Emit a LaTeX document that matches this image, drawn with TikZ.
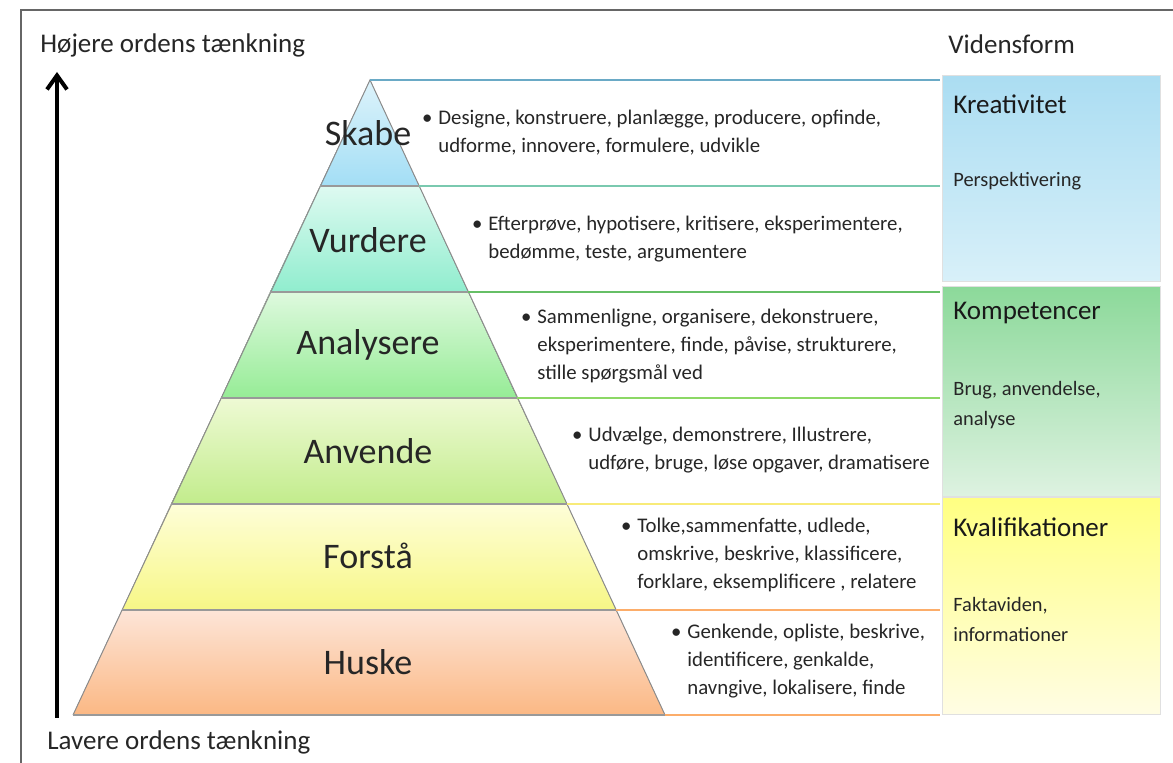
\documentclass[tikz,border=0pt]{standalone}
\usepackage{fontspec}
\setmainfont{Carlito}
\usetikzlibrary{arrows.meta}
\definecolor{skabeT}{HTML}{DDF3FB}
\definecolor{skabeB}{HTML}{A3DEF5}
\definecolor{vurdT}{HTML}{DEFAF1}
\definecolor{vurdB}{HTML}{90EDCE}
\definecolor{analT}{HTML}{DEF9DE}
\definecolor{analB}{HTML}{96EC96}
\definecolor{anvT}{HTML}{EEFAD4}
\definecolor{anvB}{HTML}{C2EC8C}
\definecolor{forT}{HTML}{FEFED8}
\definecolor{forB}{HTML}{F7F786}
\definecolor{husT}{HTML}{FDE5D8}
\definecolor{husB}{HTML}{FBB884}
\definecolor{kreaT}{HTML}{ABDDF2}
\definecolor{kreaB}{HTML}{D8F0F9}
\definecolor{kompT}{HTML}{8CD99A}
\definecolor{kompB}{HTML}{DEF2E1}
\definecolor{kvalT}{HTML}{FFFF82}
\definecolor{kvalB}{HTML}{FFFDE4}
\definecolor{topline}{HTML}{6AAAC6}

\begin{document}
\begin{tikzpicture}[x=0.5pt,y=-0.5pt,
	level/.style={font=\fontsize{18}{20}\selectfont,text=black!85},
	verbs/.style={anchor=west,align=left,inner sep=0pt,font=\fontsize{10.4}{14}\selectfont,text=black!85},
	head/.style={anchor=west,inner sep=0pt,font=\fontsize{13.5}{15}\selectfont,text=black!85},
	formbox/.style={draw=black!12,line width=0.5pt},
	formtitle/.style={anchor=west,inner sep=0pt,font=\fontsize{13.5}{16}\selectfont,text=black!90},
	formtext/.style={anchor=west,align=left,inner sep=0pt,font=\fontsize{10.2}{15}\selectfont,text=black!85},
	sep/.style={line width=0.8pt}]
	\useasboundingbox (0,0) rectangle (1173,763);
	\draw[black!60,line width=1pt] (21,763) -- (21,10) -- (1173,10);

	% pyramid
	\fill[top color=skabeT,bottom color=skabeB] (370,80) -- (419,186) -- (320,186) -- cycle;
	\fill[top color=vurdT,bottom color=vurdB] (320,186) -- (419,186) -- (468,292) -- (270,292) -- cycle;
	\fill[top color=analT,bottom color=analB] (270,292) -- (468,292) -- (517,398) -- (221,398) -- cycle;
	\fill[top color=anvT,bottom color=anvB] (221,398) -- (517,398) -- (567,504) -- (171,504) -- cycle;
	\fill[top color=forT,bottom color=forB] (171,504) -- (567,504) -- (616,610) -- (122,610) -- cycle;
	\fill[top color=husT,bottom color=husB] (122,610) -- (616,610) -- (665,715) -- (73,715) -- cycle;
	\draw[black!45,line width=0.5pt] (73,715) -- (370,80) -- (665,715);

	% band lines
	\draw[sep,topline] (370,80) -- (940,80);
	\draw[sep,vurdB!85!black] (419,186) -- (940,186);
	\draw[sep,analB!85!green!80!black] (468,292) -- (940,292);
	\draw[sep,anvB!80!green!90!black] (517,398) -- (940,398);
	\draw[sep,forB!90!orange] (567,504) -- (940,504);
	\draw[sep,husB!80!orange] (616,610) -- (940,610);
	\draw[sep,husB!80!orange] (665,715) -- (940,715);
	\draw[black!40,line width=0.6pt] (320,186) -- (419,186) (270,292) -- (468,292) (221,398) -- (517,398)
		(171,504) -- (567,504) (122,610) -- (616,610) (73,715) -- (665,715);

	\node[level] (skabe) at (368,133) {Skabe};
	\node[level] (vurdere) at (368,240) {Vurdere};
	\node[level] (analysere) at (368,345) {Analysere};
	\node[level] (anvende) at (368,451) {Anvende};
	\node[level] (forsta) at (368,556) {Forstå};
	\node[level] (huske) at (368,662) {Huske};

	\node[verbs] (tskabe) at (438,133) {\llap{\textbullet\hspace{3pt}}Designe, konstruere, planlægge, producere, opfinde,\\udforme, innovere, formulere, udvikle};
	\node[verbs] (tvurdere) at (488,239) {\llap{\textbullet\hspace{3pt}}Efterprøve, hypotisere, kritisere, eksperimentere,\\bedømme, teste, argumentere};
	\node[verbs] (tanalysere) at (537,346) {\llap{\textbullet\hspace{3pt}}Sammenligne, organisere, dekonstruere,\\eksperimentere, finde, påvise, strukturere,\\stille spørgsmål ved};
	\node[verbs] (tanvende) at (588,450) {\llap{\textbullet\hspace{3pt}}Udvælge, demonstrere, Illustrere,\\udføre, bruge, løse opgaver, dramatisere};
	\node[verbs] (tforsta) at (637,555) {\llap{\textbullet\hspace{3pt}}Tolke,sammenfatte, udlede,\\omskrive, beskrive, klassificere,\\forklare, eksemplificere , relatere};
	\node[verbs] (thuske) at (687,661) {\llap{\textbullet\hspace{3pt}}Genkende, opliste, beskrive,\\identificere, genkalde,\\navngive, lokalisere, finde};

	% vidensform
	\fill[formbox,top color=kreaT,bottom color=kreaB] (942,76) rectangle (1160,282);
	\fill[formbox,top color=kompT,bottom color=kompB] (942,287) rectangle (1160,497);
	\fill[formbox,top color=kvalT,bottom color=kvalB] (942,498) rectangle (1160,715);
	\draw[black!12,line width=0.5pt] (942,76) rectangle (1160,282) (942,287) rectangle (1160,715);
	\node[formtitle] (kreativitet) at (953,104) {Kreativitet};
	\node[formtext] (perspektiv) at (953,181) {Perspektivering};
	\node[formtitle] (kompetencer) at (953,313) {Kompetencer};
	\node[formtext] (brug) at (953,405) {Brug, anvendelse,\\analyse};
	\node[formtitle] (kvalifikationer) at (953,527) {Kvalifikationer};
	\node[formtext] (fakta) at (953,619) {Faktaviden,\\informationer};

	\node[head] (hojere) at (40,45) {Højere ordens tænkning};
	\node[head] (lavere) at (47,742) {Lavere ordens tænkning};
	\node[head] (vidensform) at (948,44) {Vidensform};
	\coordinate (lav) at (57,718);
	\coordinate (hoj) at (57,72);
	\draw[-{Straight Barb[length=7pt,width=10pt]},line width=2pt] (lav) -- (hoj);
\end{tikzpicture}
\end{document}
